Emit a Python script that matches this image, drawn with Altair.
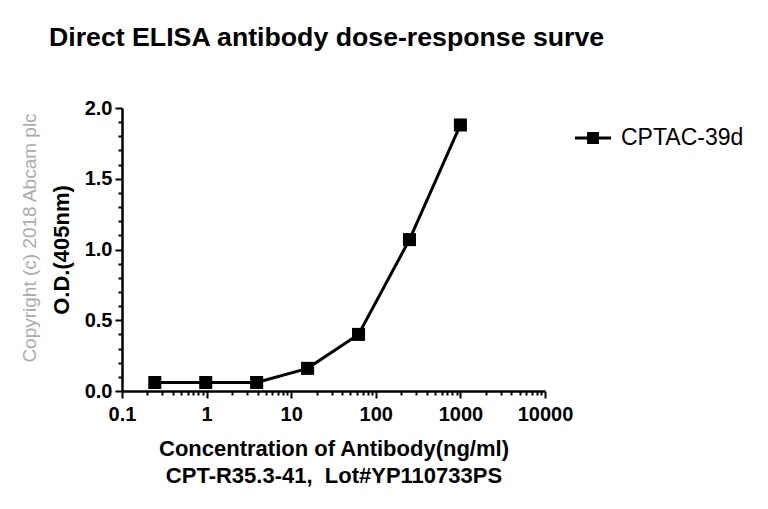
import altair as alt
import pandas as pd

# ---- data ----
concentration = [0.244, 0.977, 3.906, 15.625, 62.5, 250, 1000]
od405 = [0.06, 0.06, 0.06, 0.16, 0.40, 1.07, 1.88]
series_name = "CPTAC-39d"

title_text = "Direct ELISA antibody dose-response surve"
x_title = ["Concentration of Antibody(ng/ml)", "CPT-R35.3-41,\u00a0\u00a0Lot#YP110733PS"]
y_title = "O.D.(405nm)"
watermark = "Copyright (c) 2018 Abcam plc"

x_ticks = [m * 10 ** e for e in range(-1, 4) for m in range(1, 10)] + [10000]
y_ticks = [round(i * 0.1, 1) for i in range(0, 21)]

df = pd.DataFrame({"conc": concentration, "od": od405, "series": [series_name] * len(od405)})

FONT = "Liberation Sans"

x_enc = alt.X(
    "conc:Q",
    scale=alt.Scale(type="log", domain=[0.1, 10000], nice=False),
    axis=alt.Axis(
        values=x_ticks,
        labelExpr="abs(log(datum.value)/LN10 - round(log(datum.value)/LN10)) < 0.001 ? (datum.value < 1 ? '0.1' : format(datum.value, 'd')) : ''",
        tickSize={"condition": {"test": "abs(log(datum.value)/LN10 - round(log(datum.value)/LN10)) < 0.001", "value": 7}, "value": 4},
        title=x_title,
        labelOverlap=False,
        labelFlush=False,
        labelBound=False,
        labelPadding=6,
        titlePadding=14,
        titleLineHeight=27,
    ),
)
y_enc = alt.Y(
    "od:Q",
    scale=alt.Scale(domain=[0, 2], nice=False),
    axis=alt.Axis(
        values=y_ticks,
        labelExpr="abs(datum.value*2 - round(datum.value*2)) < 0.001 ? format(datum.value, '.1f') : ''",
        tickSize={"condition": {"test": "abs(datum.value*2 - round(datum.value*2)) < 0.001", "value": 7}, "value": 4},
        title=y_title,
        labelOverlap=False,
        labelPadding=3,
        titlePadding=11,
    ),
)

line = alt.Chart(df).mark_line(color="black", strokeWidth=3).encode(x=x_enc, y=y_enc)

points = alt.Chart(df).mark_point(shape="square", filled=True, size=170, opacity=1).encode(
    x=x_enc,
    y=y_enc,
    color=alt.Color(
        "series:N",
        scale=alt.Scale(domain=[series_name], range=["black"]),
        legend=alt.Legend(
            title=None,
            orient="none",
            legendX=453,
            legendY=12,
            symbolType="M-1,-0.08H1V0.08H-1Z M-0.33,-0.33H0.33V0.33H-0.33Z",
            symbolSize=1296,
            symbolFillColor="black",
            symbolStrokeWidth=0,
            symbolOpacity=1,
            labelFont=FONT,
            labelFontSize=23,
            labelColor="black",
            labelOffset=10,
        ),
    ),
)

wm_df = pd.DataFrame({"t": [watermark]})
wm = alt.Chart(wm_df).mark_text(
    angle=270, font=FONT, fontSize=19, color="#ababab", align="center", baseline="middle"
).encode(text="t:N", x=alt.value(-92), y=alt.value(130))

chart = (
    alt.layer(line, points, wm)
    .properties(
        width=423,
        height=283,
        autosize=alt.AutoSizeParams(type="none"),
        padding={"left": 114, "top": 100, "right": 210, "bottom": 110},
        title=alt.TitleParams(
            text=title_text,
            anchor="start",
            frame="group",
            dx=-73,
            offset=25,
            baseline="alphabetic",
            font=FONT,
            fontSize=26.7,
            fontWeight="bold",
            color="black",
        ),
    )
    .configure_view(stroke=None)
    .configure_axis(
        grid=False,
        domainColor="black",
        domainWidth=2.5,
        tickColor="black",
        tickWidth=2,
        labelFont=FONT,
        labelFontSize=20,
        labelFontWeight="bold",
        labelColor="black",
        titleFont=FONT,
        titleFontSize=22,
        titleFontWeight="bold",
        titleColor="black",
    )
)

chart.save("out.html", embed_options={"renderer": "svg", "actions": False})
